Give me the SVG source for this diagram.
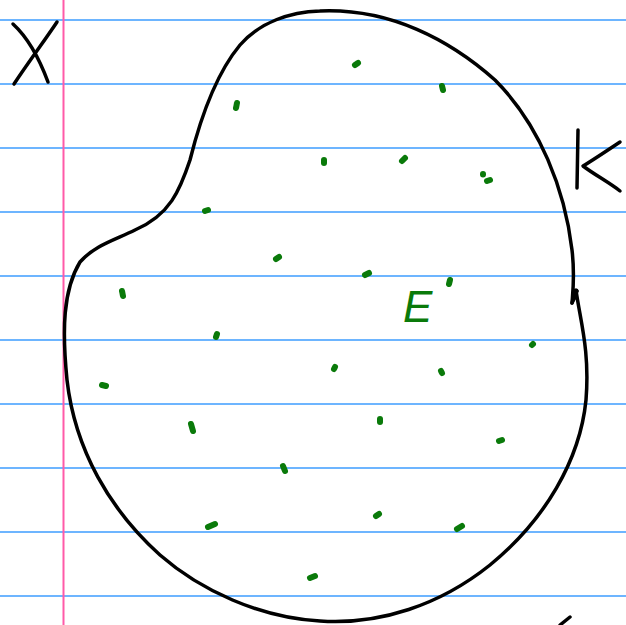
<svg xmlns="http://www.w3.org/2000/svg" width="626" height="625" viewBox="0 0 626 625">
<style>
.rule{stroke:#3d9cff;stroke-width:1.5}
.ink{fill:none;stroke:#000;stroke-width:3.5;stroke-linecap:round;stroke-linejoin:round}
.dot{fill:none;stroke:#0a7a0a;stroke-width:6;stroke-linecap:round}
</style>
<rect width="626" height="625" fill="#fff"/>
<g id="paper">
<line class="rule" x1="0" y1="20" x2="626" y2="20"/>
<line class="rule" x1="0" y1="84" x2="626" y2="84"/>
<line class="rule" x1="0" y1="148" x2="626" y2="148"/>
<line class="rule" x1="0" y1="212" x2="626" y2="212"/>
<line class="rule" x1="0" y1="276" x2="626" y2="276"/>
<line class="rule" x1="0" y1="340" x2="626" y2="340"/>
<line class="rule" x1="0" y1="404" x2="626" y2="404"/>
<line class="rule" x1="0" y1="468" x2="626" y2="468"/>
<line class="rule" x1="0" y1="532" x2="626" y2="532"/>
<line class="rule" x1="0" y1="596" x2="626" y2="596"/>
<line x1="63.5" y1="0" x2="63.5" y2="625" stroke="#ff5aa8" stroke-width="2"/>
</g>
<g id="X">
<path class="ink" d="M13 24 C25 35 38 55 48 82"/>
<path class="ink" d="M57 22 C45 40 30 60 14 84"/>
</g>
<g id="K">
<path class="ink" d="M578 130 L577 188"/>
<path class="ink" d="M620 142 C605 152 590 162 583 166 C595 175 610 183 620 191"/>
</g>
<g id="K-region">
<path class="ink" d="M320 11 C390 8 450 40 495 80 C540 125 565 190 572 250 C575 275 573 290 572 303 C576 295 578 290 576 290 C580 320 590 350 586 400 C580 460 545 520 490 565 C440 605 380 625 320 621 C260 618 200 590 160 555 C110 510 75 450 67 380 C62 330 63 290 80 262 C95 245 115 240 135 230 C170 215 180 190 190 160 C200 120 215 75 240 45 C260 22 290 12 320 11"/>
<path class="ink" d="M572 303 C574 296 576 292 577 291"/>
</g>
<g id="E">
<text x="403" y="322" font-family="Liberation Sans, sans-serif" font-size="44" fill="#0a7a0a" font-style="italic">E</text>
<path class="dot" d="M450 280 L449 284"/>
</g>
<g id="elements">
<path class="dot" d="M355 65 L358 63"/>
<path class="dot" d="M442 86 L443 90"/>
<path class="dot" d="M237 103 L236 108"/>
<path class="dot" d="M324 160 L324 163"/>
<path class="dot" d="M402 161 L405 158"/>
<path class="dot" d="M483 174 L483 174.5 M487 181 L490 180"/>
<path class="dot" d="M205 211 L208 210"/>
<path class="dot" d="M276 259 L279 257"/>
<path class="dot" d="M365 275 L369 273"/>
<path class="dot" d="M122 291 L123 296"/>
<path class="dot" d="M217 334 L216 337"/>
<path class="dot" d="M532 345 L533 344"/>
<path class="dot" d="M102 385 L106 386"/>
<path class="dot" d="M335 367 L334 369"/>
<path class="dot" d="M441 371 L442 373"/>
<path class="dot" d="M191 424 L193 431"/>
<path class="dot" d="M380 419 L380 422"/>
<path class="dot" d="M499 441 L502 440"/>
<path class="dot" d="M283 466 L285 471"/>
<path class="dot" d="M208 527 L215 524"/>
<path class="dot" d="M376 516 L379 514"/>
<path class="dot" d="M457 529 L462 526"/>
<path class="dot" d="M310 578 L315 576"/>
</g>
<path class="ink" d="M560 625 L570 617" stroke-width="5"/>
</svg>
